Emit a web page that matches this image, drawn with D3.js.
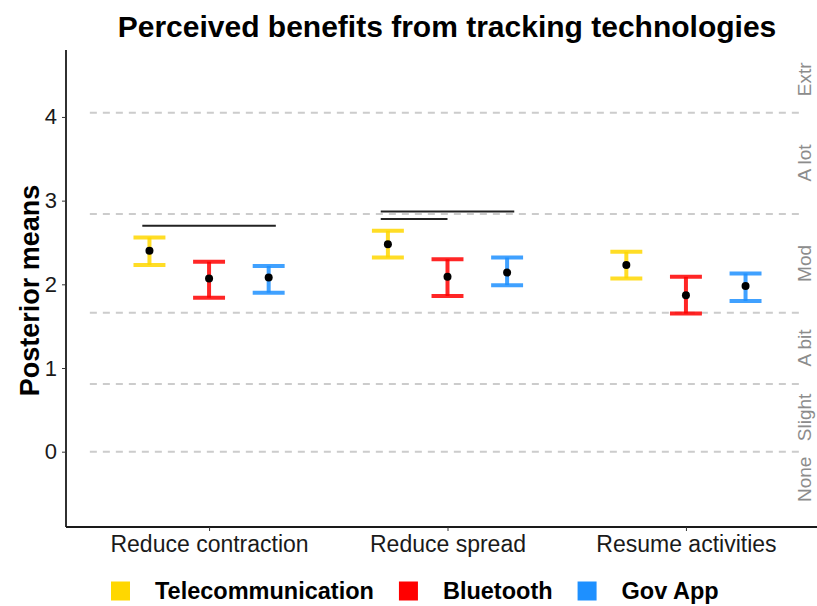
<!DOCTYPE html>
<html>
<head>
<meta charset="utf-8">
<script src="https://cdn.jsdelivr.net/npm/d3@7"></script>
<style>
  body { margin: 0; background: #fff; }
  svg { font-family: "Liberation Sans", Arial, sans-serif; }
</style>
</head>
<body>
<svg id="chart" width="817" height="606"></svg>
<script>
// Chart data
const categories = ['Reduce contraction', 'Reduce spread', 'Resume activities'];
const series = ['Telecommunication', 'Bluetooth', 'Gov App'];
const seriesColors = ['#FFD700', '#FF0000', '#1E90FF'];

// posterior means and interval bounds, one array per series (order = categories)
const telecomMean = [2.40, 2.48, 2.23];
const telecomLow = [2.23, 2.32, 2.07];
const telecomHigh = [2.56, 2.64, 2.39];
const bluetoothMean = [2.07, 2.09, 1.87];
const bluetoothLow = [1.84, 1.86, 1.65];
const bluetoothHigh = [2.27, 2.30, 2.09];
const govMean = [2.08, 2.14, 1.98];
const govLow = [1.90, 1.99, 1.80];
const govHigh = [2.22, 2.32, 2.13];

// thresholds between response levels and their labels
const thresholds = [0, 0.81, 1.66, 2.84, 4.05];
const levelLabels = ['None', 'Slight', 'A bit', 'Mod', 'A lot', 'Extr'];
const levelLabelPos = [-0.33, 0.41, 1.24, 2.25, 3.45, 4.45];

// significance bars: category index, x from / to (offsets in category units), y
const sigCategory = [0, 1, 1];
const sigFrom = [-0.28, -0.28, -0.28];
const sigTo = [0.28, 0.28, 0];
const sigY = [2.70, 2.87, 2.78];

const yTicks = [0, 1, 2, 3, 4];

const svg = d3.select('#chart');
const margin = { top: 50, left: 66, bottom: 79 };
const height = 606;

// x positions: category 1..3 in a continuous scale like ggplot's discrete axis
const x = d3.scaleLinear().domain([0.4, 3.6]).range([margin.left, 829]);
const y = d3.scaleLinear().domain([-0.9, 4.8]).range([height - margin.bottom, margin.top]);
const dodge = 0.25;
const capHalf = 0.067;

const rows = [];
series.forEach((s, si) => {
    const m = [telecomMean, bluetoothMean, govMean][si];
    const lo = [telecomLow, bluetoothLow, govLow][si];
    const hi = [telecomHigh, bluetoothHigh, govHigh][si];
    categories.forEach((c, ci) => {
        rows.push({ s: si, c: ci, xv: ci + 1 + (si - 1) * dodge, mean: m[ci], lo: lo[ci], hi: hi[ci] });
    });
});

// Title
svg.append('text')
    .attr('x', 447).attr('y', 37)
    .attr('text-anchor', 'middle')
    .attr('font-size', 30).attr('font-weight', 'bold')
    .text('Perceived benefits from tracking technologies');

// threshold dashed lines
svg.append('g').selectAll('line').data(thresholds).join('line')
    .attr('x1', x(0.5)).attr('x2', x(3.49))
    .attr('y1', d => y(d)).attr('y2', d => y(d))
    .attr('stroke', '#cccccc').attr('stroke-width', 2)
    .attr('stroke-dasharray', '7,6');

// level labels on the right
svg.append('g').selectAll('text').data(levelLabels).join('text')
    .attr('transform', (d, i) => `translate(${x(3.5) + 6},${y(levelLabelPos[i])}) rotate(-90)`)
    .attr('text-anchor', 'middle')
    .attr('font-size', 19).attr('fill', '#8c8c8c')
    .text(d => d);

// significance bars
svg.append('g').selectAll('line').data(sigY).join('line')
    .attr('x1', (d, i) => x(sigCategory[i] + 1 + sigFrom[i]))
    .attr('x2', (d, i) => x(sigCategory[i] + 1 + sigTo[i]))
    .attr('y1', d => y(d)).attr('y2', d => y(d))
    .attr('stroke', '#222').attr('stroke-width', 2);

// error bars
const eb = svg.append('g').selectAll('g').data(rows).join('g')
    .attr('stroke', d => seriesColors[d.s])
    .attr('stroke-opacity', 0.85)
    .attr('stroke-width', 4);
eb.append('line')
    .attr('x1', d => x(d.xv)).attr('x2', d => x(d.xv))
    .attr('y1', d => y(d.lo)).attr('y2', d => y(d.hi));
eb.append('line')
    .attr('x1', d => x(d.xv - capHalf)).attr('x2', d => x(d.xv + capHalf))
    .attr('y1', d => y(d.lo)).attr('y2', d => y(d.lo));
eb.append('line')
    .attr('x1', d => x(d.xv - capHalf)).attr('x2', d => x(d.xv + capHalf))
    .attr('y1', d => y(d.hi)).attr('y2', d => y(d.hi));

// mean points
svg.append('g').selectAll('circle').data(rows).join('circle')
    .attr('cx', d => x(d.xv)).attr('cy', d => y(d.mean))
    .attr('r', 4).attr('fill', '#000');

// axes
const yAxis = svg.append('g')
    .attr('transform', `translate(${margin.left},0)`)
    .call(d3.axisLeft(y).tickValues(yTicks).tickSize(4).tickPadding(5).tickFormat(d3.format('d')));
yAxis.selectAll('text').attr('font-size', 22).attr('fill', '#1a1a1a').attr('font-family', 'Liberation Sans, Arial, sans-serif');

const xAxis = svg.append('g')
    .attr('transform', `translate(0,${height - margin.bottom})`)
    .call(d3.axisBottom(x).tickValues([1, 2, 3]).tickSize(4).tickPadding(5).tickFormat(d => categories[d - 1]));
xAxis.selectAll('text').attr('font-size', 23).attr('fill', '#1a1a1a').attr('font-family', 'Liberation Sans, Arial, sans-serif');

[yAxis, xAxis].forEach(a => {
    a.select('.domain').attr('stroke', '#1a1a1a').attr('stroke-width', 1.8);
    a.selectAll('.tick line').attr('stroke', '#333');
});
// replace domain path with plain lines (no end ticks)
yAxis.select('.domain').attr('d', `M0,${margin.top}V${height - margin.bottom}`);
xAxis.select('.domain').attr('d', `M${margin.left},0H817`);

// y axis title
svg.append('text')
    .attr('transform', `translate(39,${(margin.top + height - margin.bottom) / 2 + 2}) rotate(-90)`)
    .attr('text-anchor', 'middle')
    .attr('font-size', 27).attr('font-weight', 'bold')
    .text('Posterior means');

// legend
const legend = svg.append('g').attr('transform', 'translate(111,591)');
let lx = 0;
series.forEach((s, i) => {
    legend.append('rect')
        .attr('x', lx).attr('y', -9.5).attr('width', 19).attr('height', 19)
        .attr('fill', seriesColors[i]);
    const t = legend.append('text')
        .attr('x', lx + 44).attr('y', 8)
        .attr('font-size', 23.5).attr('font-weight', 'bold')
        .text(s);
    lx += 44 + t.node().getComputedTextLength() + 25;
});
</script>
</body>
</html>
